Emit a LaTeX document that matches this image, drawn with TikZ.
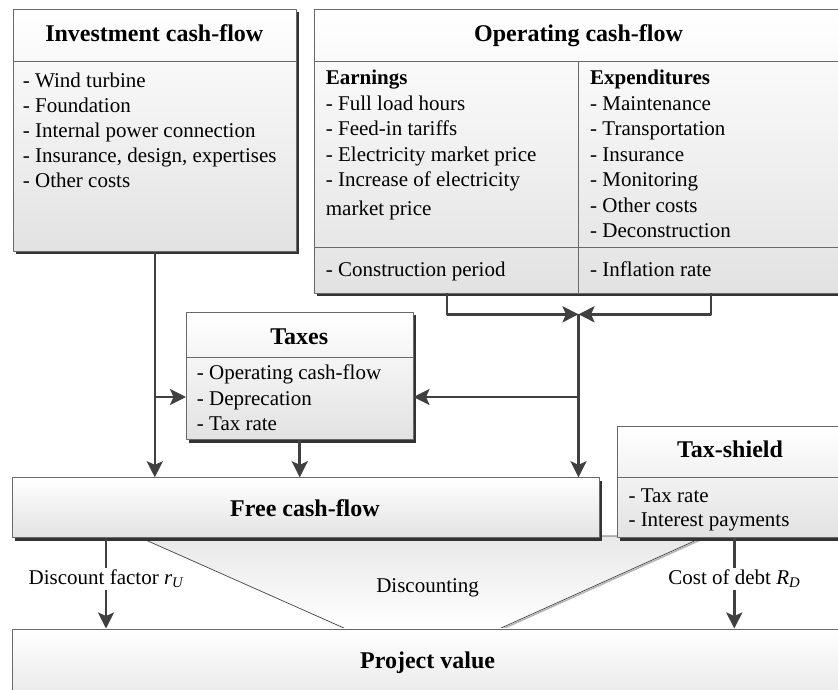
\documentclass[tikz,border=0pt]{standalone}
\usepackage{fontspec}
\setmainfont{Liberation Serif}
\usetikzlibrary{arrows.meta,shadows}

\begin{document}
\begin{tikzpicture}[
  x=1pt, y=-1pt, % pixel size, y runs downward
  line join=round,
  box/.style={draw=boxedge, line width=0.9pt, top color=white, bottom color=boxfill,
    drop shadow={shadow xshift=3pt, shadow yshift=-3pt, fill=black!80, opacity=1},
    inner sep=0pt, anchor=north west},
  rule/.style={draw=boxedge, line width=0.9pt},
  head/.style={font=\fontsize{24}{28}\selectfont\bfseries, anchor=base, inner sep=0pt},
  item/.style={font=\fontsize{21}{25}\selectfont, anchor=base west, inner sep=0pt},
  flow/.style={draw=arrowgray, line width=2.6pt, -{Stealth[length=16pt,width=16pt,inset=3.5pt]}},
  lbl/.style={fill=white, font=\fontsize{21}{25}\selectfont, inner sep=2pt}
]
  % Colors
  \definecolor{boxedge}{RGB}{105,105,105}
  \definecolor{boxfill}{RGB}{226,226,226}
  \definecolor{arrowgray}{RGB}{64,64,64}

  % ---- page size ----
  \useasboundingbox[fill=white] (0,0) rectangle (838,689);

  % ---- discounting funnel (behind the boxes) ----
  \draw[black!30, line width=1.4pt] (706.6,537.2) -- (501.1,629.7);
  \path[draw=black!75, line width=0.7pt, top color=black!9, bottom color=white]
    (136.7,536) -- (345,628.5) -- (500,628.5) -- (705.5,536) -- cycle;
  \node[font=\fontsize{21}{25}\selectfont] (disc) at (427.6,588) {Discounting};

  % ---- boxes ----
  \node[box, minimum width=283.3pt, minimum height=241.7pt] (inv) at (12.7,9) {};
  \node[box, minimum width=529pt, minimum height=284pt] (opc) at (314,9) {};
  \node[box, minimum width=226.6pt, minimum height=127.6pt] (tax) at (186,311.7) {};
  \node[box, minimum width=586.7pt, minimum height=60pt] (fcf) at (11.8,477.3) {};
  \node[box, minimum width=226pt, minimum height=111.6pt] (tsh) at (617,425.7) {};
  \node[box, minimum width=831pt, minimum height=90pt] (pv) at (12,628.5) {};

  % header lines and dividers
  \draw[rule] (inv.west |- 0,61) -- (inv.east |- 0,61);
  \draw[rule] (opc.west |- 0,61.5) -- (opc.east |- 0,61.5);
  \draw[rule] (opc.west |- 0,247.7) -- (opc.east |- 0,247.7);
  \draw[rule] (578.5,61.5) -- (opc.south -| 578.5,0);
  \draw[rule] (tax.west |- 0,357.3) -- (tax.east |- 0,357.3);
  \draw[rule] (tsh.west |- 0,477.3) -- (tsh.east |- 0,477.3);

  % ---- investment cash-flow ----
  \node[head] (inv-head) at (154.3,41) {Investment cash-flow};
  \foreach \t [count=\i] in {Wind turbine, Foundation, Internal power connection,
      {Insurance, design, expertises}, Other costs} {
    \node[item] (inv-\i) at (22.7, 87+25.2*\i-25.2) {- \t};
  }

  % ---- operating cash-flow ----
  \node[head] (opc-head) at (578.5,41) {Operating cash-flow};
  \node[item, font=\fontsize{21}{25}\selectfont\bfseries] (earn) at (325.7,84.7) {Earnings};
  \foreach \t [count=\i] in {Full load hours, Feed-in tariffs,
      Electricity market price, Increase of electricity} {
    \node[item] (earn-\i) at (325.7, 84.7+25.5*\i) {- \t};
  }
  \node[item] (earn-5) at (325.7,215.3) {market price};
  \node[item, font=\fontsize{21}{25}\selectfont\bfseries] (expd) at (590,84.7) {Expenditures};
  \foreach \t [count=\i] in {Maintenance, Transportation, Insurance,
      Monitoring, Other costs, Deconstruction} {
    \node[item] (expd-\i) at (590, 84.7+25.5*\i) {- \t};
  }
  \node[item] (cons) at (325.7,276.3) {- Construction period};
  \node[item] (infl) at (590,276.3) {- Inflation rate};

  % ---- taxes ----
  \node[head] (tax-head) at (299.3,344.7) {Taxes};
  \foreach \t [count=\i] in {Operating cash-flow, Deprecation, Tax rate} {
    \node[item] (tax-\i) at (196.7, 379.7+25.3*\i-25.3) {- \t};
  }

  % ---- free cash-flow, tax-shield, project value ----
  \node[head] (fcf-head) at (305,516.3) {Free cash-flow};
  \node[head] (tsh-head) at (730,457.3) {Tax-shield};
  \node[item] (tsh-1) at (628.3,502) {- Tax rate};
  \node[item] (tsh-2) at (628.3,526.5) {- Interest payments};
  \node[head] (pv-head) at (427.6,668) {Project value};

  % ---- connectors ----
  \coordinate (earnfoot) at (447,293);
  \coordinate (expdfoot) at (711,293);
  \coordinate (jn) at (578.5,314.3);
  \coordinate (tx) at (0,397);
  \coordinate (dl) at (106,0);
  \coordinate (cd) at (734.3,0);

  \draw[flow] (earnfoot) |- (jn);
  \draw[flow] (expdfoot) |- (jn);
  \draw[flow] (jn) -- (jn |- fcf.north);
  \draw[flow] (jn |- tx) -- (tax.east |- tx);

  \draw[flow] (inv.south) -- (inv.south |- fcf.north);
  \draw[flow] (inv.south |- tx) -- (tax.west |- tx);
  \draw[flow] (tax.south) -- (tax.south |- fcf.north);

  \draw[flow] (fcf.south -| dl) -- node[lbl, pos=0.45] (rU)
    {Discount factor {\itshape r}\textsubscript{\itshape U}} (pv.north -| dl);
  \draw[flow] (tsh.south -| cd) -- node[lbl, pos=0.45] (RD)
    {Cost of debt {\itshape R}\textsubscript{\itshape D}} (pv.north -| cd);

\end{tikzpicture}
\end{document}
